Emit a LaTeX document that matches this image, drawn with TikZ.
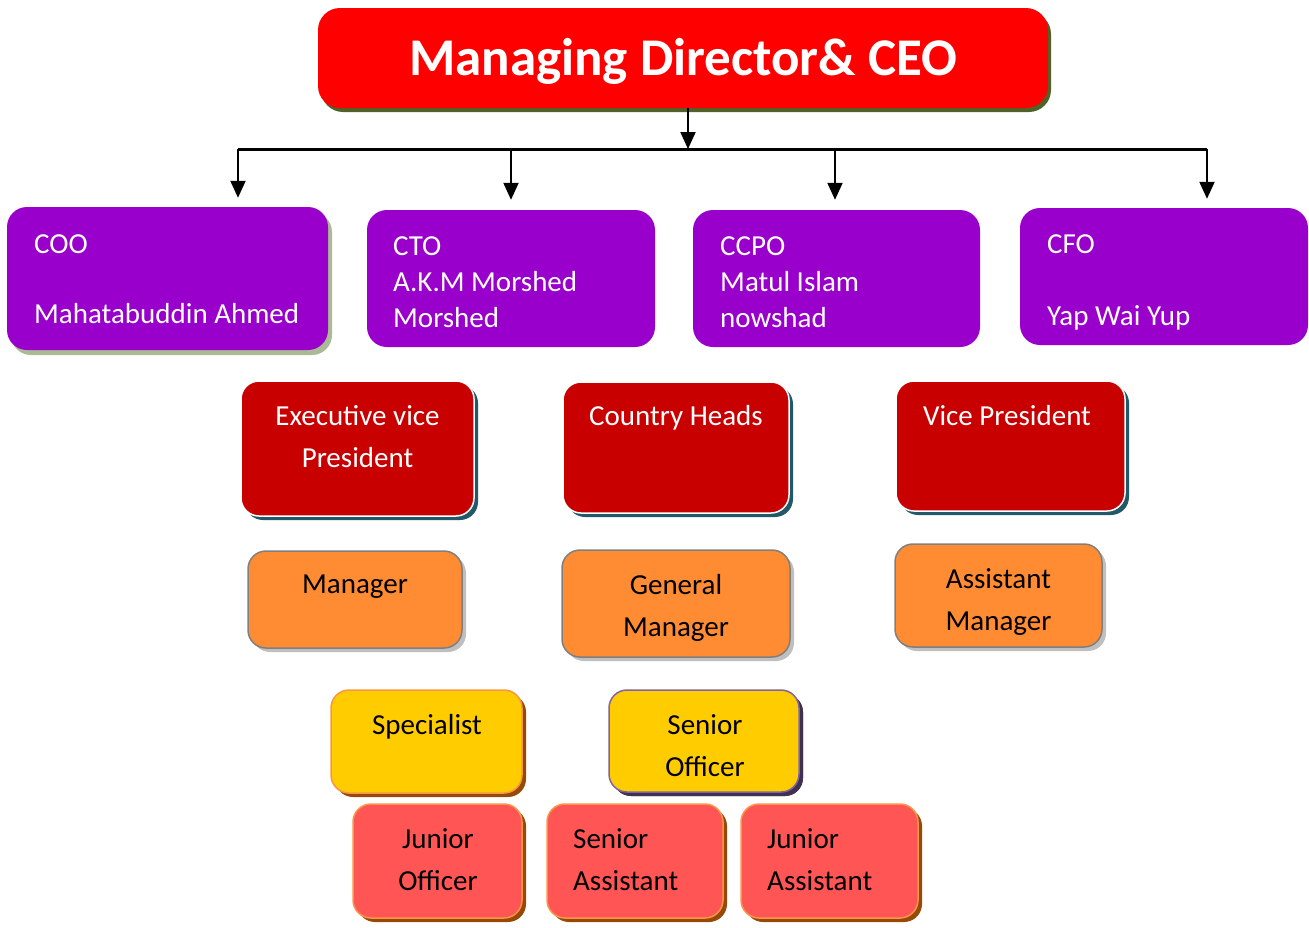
\documentclass[tikz,border=0pt]{standalone}
\usepackage{fontspec}
\setmainfont{Carlito}
\usetikzlibrary{arrows.meta,shadows}

\definecolor{mdred}{HTML}{FF0000}
\definecolor{mdshadow}{HTML}{4F6228}
\definecolor{chief}{HTML}{9900CC}
\definecolor{chiefshadow}{HTML}{A9BA94}
\definecolor{vpred}{HTML}{C80000}
\definecolor{vpshadow}{HTML}{215968}
\definecolor{mgrorange}{HTML}{FF8C33}
\definecolor{mgrline}{HTML}{7F7F7F}
\definecolor{offyellow}{HTML}{FFCC00}
\definecolor{warmline}{HTML}{F79646}
\definecolor{warmshadow}{HTML}{984807}
\definecolor{violetline}{HTML}{8064A2}
\definecolor{violetshadow}{HTML}{3F3151}
\definecolor{staffpink}{HTML}{FF5555}

\begin{document}
\begin{tikzpicture}[x=1pt, y=-1pt,
  box/.style={rectangle, rounded corners=18pt, inner sep=0pt},
  topbox/.style={box, fill=mdred, rounded corners=22pt,
    drop shadow={shadow xshift=3pt, shadow yshift=-4pt, fill=mdshadow, opacity=1}},
  purplebox/.style={box, fill=chief, rounded corners=20pt},
  redbox/.style={box, fill=vpred, draw=white, line width=1.5pt,
    drop shadow={shadow xshift=4pt, shadow yshift=-4pt, fill=vpshadow, opacity=1}},
  orangebox/.style={box, fill=mgrorange, draw=mgrline, line width=1.5pt,
    drop shadow={shadow xshift=4pt, shadow yshift=-4pt, fill=black!25, opacity=1}},
  yellowbox/.style={box, fill=offyellow, draw=warmline, line width=1.5pt,
    drop shadow={shadow xshift=4pt, shadow yshift=-4pt, fill=warmshadow, opacity=1}},
  pinkbox/.style={box, fill=staffpink, draw=warmline, line width=1.5pt,
    drop shadow={shadow xshift=4pt, shadow yshift=-4pt, fill=warmshadow, opacity=1}},
  wtext/.style={text=white, font=\fontsize{29}{36}\selectfont, inner sep=0pt,
    align=left, anchor=base west},
  ctext/.style={font=\fontsize{29}{42}\selectfont, inner sep=0pt,
    align=center, anchor=base},
  ltext/.style={font=\fontsize{29}{42}\selectfont, inner sep=0pt,
    align=left, anchor=base west},
  arrow/.style={-{Triangle[length=17pt, width=15pt]}, line width=2pt},
  bus/.style={line width=3pt}
]
  \useasboundingbox (0,0) rectangle (1309,927);

  % top
  \node[topbox, minimum width=730pt, minimum height=100pt] (md) at (683,58) {};
  \node[text=white, font=\fontsize{53}{60}\selectfont\bfseries, inner sep=0pt,
    anchor=base] (md-t) at (683,75) {Managing Director\& CEO};

  % chiefs (text anchored on the last line)
  \node[purplebox, minimum width=321pt, minimum height=143pt,
    drop shadow={shadow xshift=4pt, shadow yshift=-5pt, fill=chiefshadow, opacity=1}]
    (coo) at (167.5,278.5) {};
  \node[purplebox, minimum width=288pt, minimum height=137pt] (cto) at (511,278.5) {};
  \node[purplebox, minimum width=287pt, minimum height=137pt] (ccpo) at (836.5,278.5) {};
  \node[purplebox, minimum width=288pt, minimum height=137pt] (cfo) at (1164,276.5) {};

  \node[wtext] (coo-t) at (34,323) {COO\\[34pt]Mahatabuddin Ahmed};
  \node[wtext] (cto-t) at (393,327) {CTO\\A.K.M Morshed\\Morshed};
  \node[wtext] (ccpo-t) at (720,327) {CCPO\\Matul Islam\\nowshad};
  \node[wtext] (cfo-t) at (1047,325) {CFO\\[36pt]Yap Wai Yup};

  % vice presidents
  \node[redbox, minimum width=233pt, minimum height=135pt] (evp) at (357.5,448.5) {};
  \node[redbox, minimum width=226pt, minimum height=131pt] (ch) at (676,447.5) {};
  \node[redbox, minimum width=229pt, minimum height=130pt] (vp) at (1010.5,446) {};
  \node[ctext, text=white] (evp-t) at (357.5,467) {Executive vice\\President};
  \node[ctext, text=white] (ch-t) at (676,425) {Country Heads};
  \node[ctext, text=white] (vp-t) at (1007,425) {Vice President};

  % managers
  \node[orangebox, minimum width=214pt, minimum height=97pt] (mgr) at (355,599.5) {};
  \node[orangebox, minimum width=228pt, minimum height=107pt] (gm) at (676,603.5) {};
  \node[orangebox, minimum width=207pt, minimum height=103pt] (am) at (998.5,595.5) {};
  \node[ctext] (mgr-t) at (355,593) {Manager};
  \node[ctext] (gm-t) at (676,636) {General\\Manager};
  \node[ctext] (am-t) at (998.5,630) {Assistant\\Manager};

  % officers
  \node[yellowbox, minimum width=191pt, minimum height=103pt] (spec) at (426.5,741.5) {};
  \node[yellowbox, draw=violetline, minimum width=190pt, minimum height=102pt,
    drop shadow={shadow xshift=4pt, shadow yshift=-4pt, fill=violetshadow, opacity=1}]
    (so) at (704,741) {};
  \node[ctext] (spec-t) at (427,734) {Specialist};
  \node[ctext] (so-t) at (705,776) {Senior\\Officer};

  % staff
  \node[pinkbox, minimum width=169pt, minimum height=114pt] (jo) at (437.5,861) {};
  \node[pinkbox, minimum width=176pt, minimum height=114pt] (sa) at (635,861) {};
  \node[pinkbox, minimum width=177pt, minimum height=114pt] (ja) at (829.5,861) {};
  \node[ctext] (jo-t) at (438,890) {Junior\\Officer};
  \node[ltext] (sa-t) at (573,890) {Senior\\Assistant};
  \node[ltext] (ja-t) at (767,890) {Junior\\Assistant};

  % connectors
  \coordinate (busmid) at (688,149);
  \coordinate (tapA) at (238,149);
  \coordinate (tapB) at (511,149);
  \coordinate (tapC) at (835,149);
  \coordinate (tapD) at (1207,149);
  \draw[arrow] (md.south -| busmid) -- (busmid);
  \draw[bus] (tapA) -- (tapD);
  \draw[arrow] (tapA) -- ([yshift=9pt]tapA |- coo.north);
  \draw[arrow] (tapB) -- ([yshift=10pt]tapB |- cto.north);
  \draw[arrow] (tapC) -- ([yshift=10pt]tapC |- ccpo.north);
  \draw[arrow] (tapD) -- ([yshift=9pt]tapD |- cfo.north);
\end{tikzpicture}
\end{document}
